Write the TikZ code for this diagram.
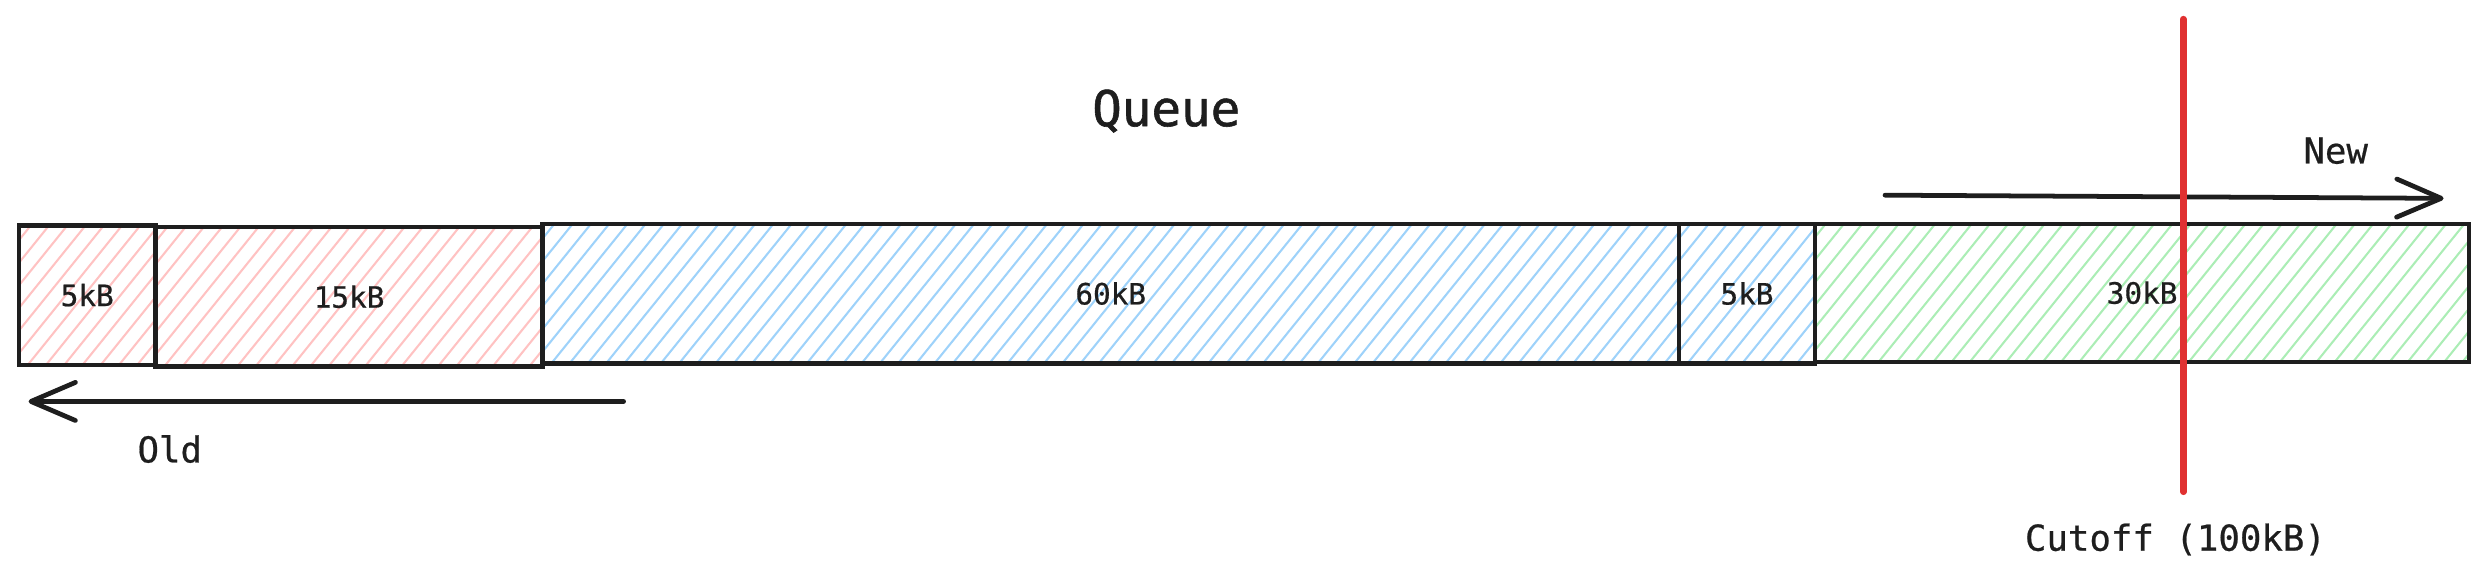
\documentclass[tikz,border=0pt]{standalone}
\usepackage{fontspec}
\setmonofont{DejaVu Sans Mono}
\newfontfamily\lblfont[FakeBold=0.6]{DejaVu Sans Mono}
\newfontfamily\ttlfont[FakeBold=1.2]{DejaVu Sans Mono}
\usetikzlibrary{arrows.meta}
\definecolor{ink}{HTML}{1E1E1E}
\definecolor{hred}{HTML}{FFC2C2}
\definecolor{hblue}{HTML}{9ED2FA}
\definecolor{hgreen}{HTML}{ABEDB5}
\definecolor{cut}{HTML}{E03131}
\tikzset{
  seg/.style={draw=ink, line width=2.8pt, minimum height=88pt, inner sep=0pt,
    font=\lblfont\fontsize{18.5}{20}\selectfont, text=ink},
  hatch/.style={path picture={
    \foreach \i in {0,...,150}{
      \draw[#1, line width=1.3pt]
        ([xshift=\i*11.5pt-75pt]path picture bounding box.south west) -- ++(71pt,88pt);}}},
  lbl/.style={font=\lblfont\fontsize{22.5}{24}\selectfont, text=ink},
  ttl/.style={font=\ttlfont\fontsize{31}{34}\selectfont, text=ink},
  arr/.style={draw=ink, line width=3pt, line cap=round,
    -{Straight Barb[length=28pt,width=24pt,line width=3pt,round]}},
  cutline/.style={draw=cut, line width=4pt, line cap=round}
}
\begin{document}
\begin{tikzpicture}[x=1pt,y=-1pt]
\useasboundingbox (0,0) rectangle (1568,368.7);
% segments
\node[seg, hatch=hred,   minimum width=86pt]  (b1) at (55,186)  {5kB};
\node[seg, hatch=hred,   minimum width=244pt] (b2) at (220,187) {15kB};
\node[seg, hatch=hblue,  minimum width=716pt] (b3) at (700,185) {60kB};
\node[seg, hatch=hblue,  minimum width=86pt]  (b4) at (1101,185) {5kB};
\node[seg, hatch=hgreen, minimum width=412pt, minimum height=87pt] (b5) at (1350,184.5) {30kB};
% title
\node[ttl] (title) at (735,70) {Queue};
% arrows
\coordinate (ns) at (1188,123);
\coordinate (ne) at (1540,125);
\draw[arr] (ns) -- (ne);
\node[lbl] (new) at (1472,95) {New};
\coordinate (os) at (393,253);
\coordinate (oe) at (18,253);
\draw[arr] (os) -- (oe);
\node[lbl] (old) at (107,283) {Old};
% cutoff
\coordinate (ct) at (1376,12);
\coordinate (cb) at (1376,310);
\draw[cutline] (ct) -- (cb);
\node[lbl] (cutoff) at (1371,340) {Cutoff (100kB)};
\end{tikzpicture}
\end{document}
